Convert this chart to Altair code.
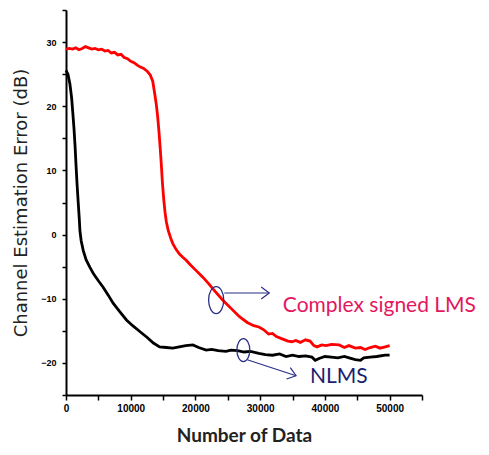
import altair as alt
import pandas as pd

# Complex signed LMS (red)
red_x = [0, 500, 1000, 1500, 2000, 2500, 3000, 3500, 4000, 4500, 5000, 5500, 6000, 6500, 7000, 7500,
         8000, 8500, 9000, 9500, 10000, 10500, 11000, 11500, 12000, 12500, 13000, 13400, 13700, 13950,
         14150, 14360, 14550, 14720, 14900, 15100, 15300, 15500, 15800, 16200, 16500, 17000, 17500,
         18000, 18570, 19200, 20000, 21100, 22000, 23000, 24200, 25500, 26800, 28000, 29000, 29800,
         30500, 31300, 31900, 32500, 33500, 34300, 34900, 35500, 36200, 37000, 37700, 38300, 38800,
         39500, 40200, 41000, 42200, 43000, 43700, 44700, 45500, 46200, 47000, 47800, 48500, 49300, 50000]
red_y = [28.9, 29.0, 28.9, 29.1, 28.8, 29.0, 29.3, 29.1, 28.9, 29.0, 28.8, 28.9, 28.6, 28.7, 28.3, 28.4,
         28.0, 28.1, 27.6, 27.4, 27.0, 26.8, 26.4, 26.1, 25.9, 25.5, 24.9, 23.9, 22.0, 20.3,
         18.5, 16.1, 13.5, 11.0, 8.0, 5.5, 3.5, 2.0, 0.6, -0.6, -1.4, -2.3, -3.0,
         -3.5, -4.0, -4.7, -5.5, -6.6, -7.6, -8.8, -10.2, -11.5, -12.8, -13.7, -14.2, -14.4,
         -14.8, -15.5, -15.4, -15.9, -16.3, -16.6, -16.7, -16.5, -16.8, -16.4, -16.6, -17.3, -17.5,
         -17.2, -17.3, -17.1, -17.2, -17.6, -17.3, -17.7, -17.6, -17.9, -17.6, -17.4, -17.7, -17.5, -17.3]

# NLMS (black)
blk_x = [0, 300, 600, 870, 1050, 1230, 1400, 1540, 1700, 1900, 2050, 2150, 2350, 2670, 3100, 3700,
         4300, 5000, 5740, 6500, 7280, 8300, 9340, 10300, 11400, 12500, 13500, 14460, 15500, 16500,
         17500, 18500, 19600, 20500, 21650, 22500, 23500, 24700, 25500, 26500, 27500, 28500, 29800,
         30800, 31900, 33000, 34000, 35000, 36000, 37000, 38000, 38500, 39100, 40000, 41000, 42000,
         43000, 44000, 44700, 45500, 46000, 47000, 48000, 49300, 50000]
blk_y = [25.6, 25.0, 23.5, 21.3, 19.0, 16.6, 13.8, 11.0, 8.0, 4.8, 2.5, 0.6, -1.0, -2.5, -3.9, -5.1,
         -6.2, -7.2, -8.2, -9.4, -10.7, -12.0, -13.3, -14.2, -15.1, -16.0, -16.9, -17.5, -17.6, -17.7,
         -17.5, -17.3, -17.2, -17.6, -18.0, -17.9, -18.1, -18.2, -18.0, -18.1, -18.3, -18.2, -18.5,
         -18.7, -18.8, -18.6, -19.0, -18.8, -19.0, -18.9, -19.1, -19.6, -19.3, -19.0, -19.1, -19.2,
         -19.0, -19.3, -19.5, -19.6, -19.2, -19.1, -19.0, -18.8, -18.8]

x_ticks = list(range(0, 55001, 5000))
y_ticks = list(range(-25, 36, 5))

# annotations (data units)
ell_x = [23200, 27400]
ell_y = [-10.2, -18.0]
ell_size = [729, 529]
arr_x = [24460, 28000]
arr_y = [-9.1, -19.5]
arr_x2 = [31400, 35540]
arr_y2 = [-9.1, -22.0]
arr_angle = [0, 18]
lab_text = ["Complex signed LMS", "NLMS"]
lab_x = [33500, 37700]
lab_y = [-12.0, -23.1]
lab_color = ["#e3175e", "#1c1f6e"]

XS = alt.Scale(domain=[0, 55000], nice=False, zero=False)
YS = alt.Scale(domain=[-25, 35], nice=False, zero=False)

xaxis = alt.Axis(values=x_ticks, labelExpr="datum.value % 10000 == 0 && datum.value <= 50000 ? datum.label : ''",
                 format="d", title="Number of Data", titleFont="Lato", titleFontSize=19,
                 titleFontWeight="bold", titleColor="#222222", titlePadding=13,
                 labelFont="Liberation Sans", labelFontSize=10, labelFontWeight="bold",
                 labelColor="black", labelPadding=3, tickSize=5, tickWidth=1.5, tickColor="black",
                 domainColor="black", domainWidth=2, grid=False, labelFlush=False, labelOverlap=False)
yaxis = alt.Axis(values=y_ticks, labelExpr="datum.value % 10 == 0 && datum.value >= -20 && datum.value <= 30 ? datum.label : ''",
                 title="Channel Estimation Error (dB)", titleFont="DejaVu Sans", titleFontSize=18,
                 titleFontWeight="normal", titleColor="#222222", titlePadding=10,
                 labelFont="Liberation Sans", labelFontSize=9, labelFontWeight="bold",
                 labelColor="black", labelPadding=6, tickSize=4, tickWidth=1.5, tickColor="black",
                 domainColor="black", domainWidth=2, grid=False, labelFlush=False, labelOverlap=False)

X = alt.X("x:Q", scale=XS, axis=xaxis)
Y = alt.Y("y:Q", scale=YS, axis=yaxis)

red_df = pd.DataFrame({"x": red_x, "y": red_y})
blk_df = pd.DataFrame({"x": blk_x, "y": blk_y})

red = alt.Chart(red_df).mark_line(color="#ff0000", strokeWidth=2.8).encode(x=X, y=Y)
blk = alt.Chart(blk_df).mark_line(color="#000000", strokeWidth=2.8).encode(x=X, y=Y)

ell_df = pd.DataFrame({"x": ell_x, "y": ell_y, "s": ell_size})
ell = alt.Chart(ell_df).mark_point(
    shape="M-0.56,0A0.56,1 0 1,0 0.56,0A0.56,1 0 1,0 -0.56,0Z",
    filled=False, stroke="#2b2f86", strokeWidth=1.3, opacity=1).encode(
    x=X, y=Y, size=alt.Size("s:Q", scale=None, legend=None))

arr_df = pd.DataFrame({"x": arr_x, "y": arr_y, "x2": arr_x2, "y2": arr_y2, "a": arr_angle})
arr = alt.Chart(arr_df).mark_rule(color="#2b2f86", strokeWidth=1.2).encode(
    x=X, y=Y, x2="x2:Q", y2="y2:Q")
head = alt.Chart(arr_df).mark_point(
    shape="M-1,-0.75L0,0L-1,0.75", filled=False, stroke="#2b2f86", strokeWidth=1.2,
    size=256, opacity=1).encode(
    x=alt.X("x2:Q", scale=XS, axis=xaxis), y=alt.Y("y2:Q", scale=YS, axis=yaxis),
    angle=alt.Angle("a:Q", scale=None))

lab_df = pd.DataFrame({"x": lab_x, "y": lab_y, "t": lab_text, "c": lab_color})
lab = alt.Chart(lab_df).mark_text(align="left", baseline="alphabetic", fontSize=21,
                                  font="Lato").encode(
    x=X, y=Y, text="t:N", color=alt.Color("c:N", scale=None, legend=None))

chart = alt.layer(red, blk, ell, arr, head, lab).properties(
    width=356, height=385,
    autosize=alt.AutoSizeParams(type="none"),
    padding={"left": 58, "top": 2, "right": 59, "bottom": 52},
    background="white",
).configure_view(stroke=None)

chart.save("out.html", embed_options={"renderer": "svg", "actions": False})
